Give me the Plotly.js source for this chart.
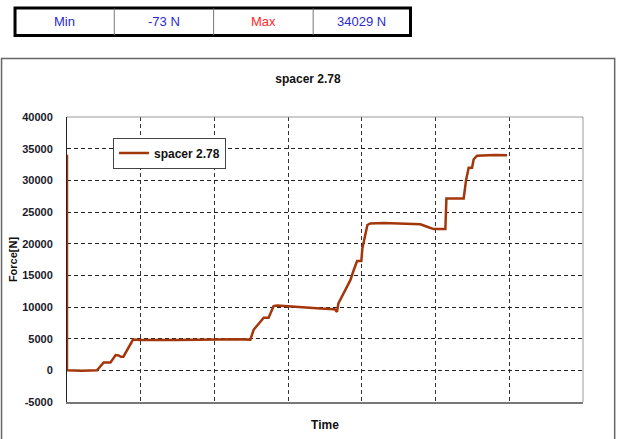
<!DOCTYPE html>
<html>
<head>
<meta charset="utf-8">
<script src="https://cdn.plot.ly/plotly-3.0.1.min.js"></script>
<style>html,body{margin:0;padding:0;background:#fff;}#chart{width:617px;height:439px;}</style>
</head>
<body>
<div id="chart"></div>
<script>
// ---- data ----
const seriesName = 'spacer 2.78';
const timeVals = [0, 0, 0.2, 0.407, 0.497, 0.59, 0.66, 0.70, 0.73, 0.765, 0.896, 0.995, 1.5, 2.0, 2.1, 2.3, 2.487,
  2.532, 2.668, 2.735, 2.803, 2.849, 3.0, 3.166, 3.437, 3.63, 3.663, 3.681, 3.776, 3.844, 3.889, 3.935, 3.993,
  4.007, 4.075, 4.115, 4.3, 4.563, 4.794, 4.885, 4.974, 5.133, 5.147, 5.381, 5.414, 5.449, 5.495, 5.517, 5.563, 5.8, 5.97];
const forceVals = [34029, 0, -73, 0, 1250, 1250, 2400, 2350, 2150, 2150, 4850, 4800, 4800, 4850, 4950, 4900, 4850,
  6400, 8300, 8300, 10150, 10250, 10100, 9950, 9750, 9650, 9230, 10550, 12650, 14240, 15800, 17250, 17250,
  19250, 22950, 23200, 23250, 23200, 23050, 22670, 22300, 22300, 27150, 27150, 30060, 32000, 32000, 33330, 33900, 34000, 33980];
const yTickVals = [-5000, 0, 5000, 10000, 15000, 20000, 25000, 30000, 35000, 40000];
const tableLabels = ['Min', '-73 N', 'Max', '34029 N'];
const tableColors = ['#2a2ad0', '#2a2ad0', '#ff2a2a', '#2a2ad0'];
const chartTitle = 'spacer 2.78';
const xTitle = 'Time';
const yTitle = 'Force[N]';

// ---- layout helpers (pixel -> paper) ----
const L = 67, R = 583.3, T = 117, B = 401.7, W = 617, H = 439;
const px = x => (x - L) / (R - L);
const py = y => (B - y) / (B - T);
const FONT = 'Liberation Sans, Arial, sans-serif';

const shapes = [];
const annotations = [];
// outer chart frame
shapes.push({type:'rect', xref:'paper', yref:'paper', x0:px(1.5), x1:px(615), y0:py(445), y1:py(58.5),
  line:{color:'#666', width:1.5}, fillcolor:'rgba(0,0,0,0)', layer:'below'});
// plot area border (top/right light gray)
shapes.push({type:'line', xref:'paper', yref:'paper', x0:0, x1:1, y0:1, y1:1, line:{color:'#999', width:1}});
shapes.push({type:'line', xref:'paper', yref:'paper', x0:1, x1:1, y0:0, y1:1, line:{color:'#999', width:1}});
// stats table
const tx = [15, 114.3, 213.7, 313.3, 410.7];
shapes.push({type:'rect', xref:'paper', yref:'paper', x0:px(tx[0]), x1:px(tx[4]), y0:py(35.5), y1:py(8),
  line:{color:'#000', width:3}, fillcolor:'#fff'});
for (let i = 1; i < 4; i++) {
  shapes.push({type:'line', xref:'paper', yref:'paper', x0:px(tx[i]), x1:px(tx[i]), y0:py(35), y1:py(8.5),
    line:{color:'#777', width:1}});
}
tableLabels.forEach((t, i) => {
  annotations.push({xref:'paper', yref:'paper', x:px((tx[i] + tx[i+1]) / 2), y:py(22), text:t, showarrow:false,
    xanchor:'center', yanchor:'middle', font:{family:FONT, size:13, color:tableColors[i]}});
});

const trace = {
  x: timeVals, y: forceVals, type:'scatter', mode:'lines', name: seriesName,
  line:{color:'#a3360a', width:2.5}
};

const layout = {
  width: W, height: H,
  margin:{l:L, r:W - R, t:T, b:H - B, pad:0},
  paper_bgcolor:'#fff', plot_bgcolor:'#fff',
  font:{family:FONT, color:'#111'},
  title:{text:chartTitle, x:308/W, xref:'container', xanchor:'center', y:1 - 79/H, yref:'container', yanchor:'middle',
    font:{family:FONT, size:12, weight:'bold', color:'#111'}},
  showlegend:true,
  legend:{x:px(113), y:py(137.5), xanchor:'left', yanchor:'top', bgcolor:'#fff', bordercolor:'#444', borderwidth:1,
    font:{family:FONT, size:12, weight:'bold', color:'#111'}, itemwidth:30, tracegroupgap:0},
  xaxis:{range:[0, 7], dtick:1, tick0:0, showticklabels:false, ticks:'', showgrid:true, gridcolor:'#333', gridwidth:1,
    griddash:'4px,3px', zeroline:false, showline:true, linecolor:'#777', linewidth:1.5,
    title:{text:xTitle, standoff:18, font:{family:FONT, size:12, weight:'bold', color:'#111'}}},
  yaxis:{range:[-5000, 40000], tickvals:yTickVals, ticktext:yTickVals.map(String), ticks:'', ticklabelstandoff:11,
    showgrid:true, gridcolor:'#222', gridwidth:1, griddash:'4px,3px', zeroline:false, showline:true, linecolor:'#222', linewidth:1,
    tickfont:{family:FONT, size:11, weight:'bold', color:'#1a1a2a'},
    title:{text:yTitle, standoff:2, font:{family:FONT, size:11, weight:'bold', color:'#111'}}},
  shapes: shapes,
  annotations: annotations
};

Plotly.newPlot('chart', [trace], layout, {staticPlot:true, displayModeBar:false});
</script>
</body>
</html>
